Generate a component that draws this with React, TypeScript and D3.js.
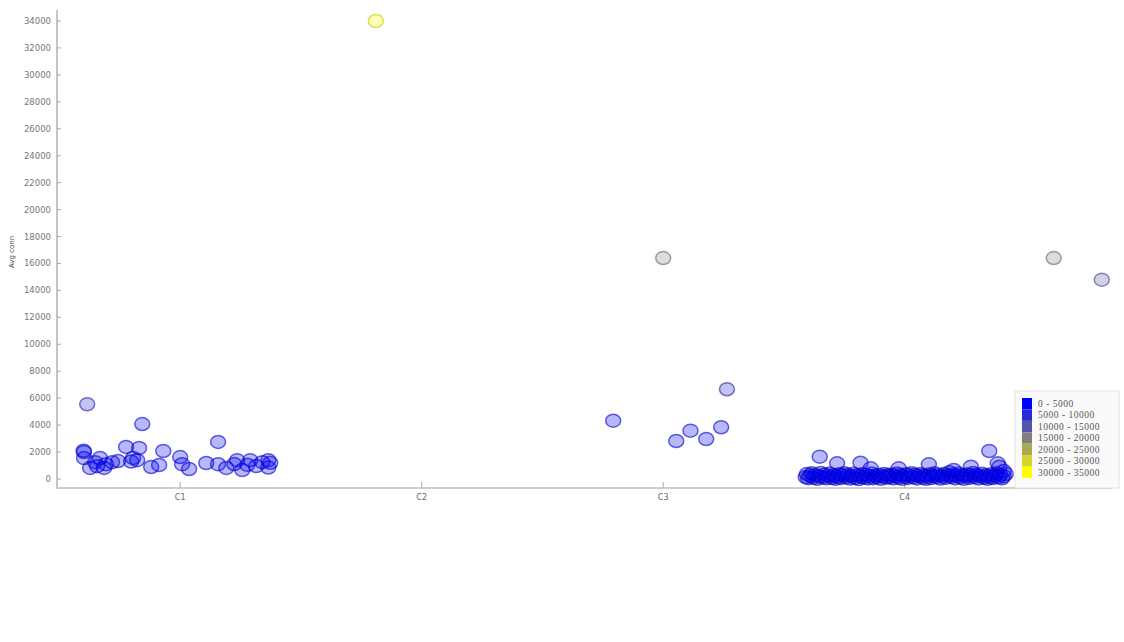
import React from "react";
import * as d3 from "d3";

const categories = ["C1", "C2", "C3", "C4"];
const yTicks = d3.range(0, 34001, 2000);
const legendLabels = ["0 - 5000", "5000 - 10000", "10000 - 15000", "15000 - 20000", "20000 - 25000", "25000 - 30000", "30000 - 35000"];

// [offset within category, value]
const c1Points: [number, number][] = [
  [-0.398, 2000], [-0.398, 1550], [-0.4, 2100], [-0.385, 5550], [-0.373, 820], [-0.352, 1250],
  [-0.344, 950], [-0.332, 1560], [-0.315, 820], [-0.307, 1100], [-0.282, 1250], [-0.257, 1330],
  [-0.224, 2380], [-0.203, 1300], [-0.195, 1560], [-0.178, 1400], [-0.17, 2300], [-0.157, 4080],
  [-0.12, 890], [-0.087, 1040], [-0.07, 2080], [0.0, 1630], [0.008, 1100], [0.037, 740],
  [0.108, 1190], [0.157, 2750], [0.157, 1100], [0.191, 820], [0.224, 1110], [0.236, 1400],
  [0.257, 670], [0.278, 1050], [0.29, 1400], [0.315, 960], [0.34, 1250], [0.365, 1400],
  [0.365, 850], [0.373, 1200],
];
const c2Points: [number, number][] = [[-0.19, 34000]];
const c3Points: [number, number][] = [
  [-0.207, 4330], [0.0, 16400], [0.054, 2820], [0.113, 3590], [0.178, 2970], [0.24, 3840], [0.264, 6660],
];
const c4Points: [number, number][] = [
  [-0.41, 150], [-0.405, 380], [-0.4, 60], [-0.392, 250], [-0.385, 420], [-0.378, 100], [-0.37, 300],
  [-0.362, 20], [-0.355, 200], [-0.348, 450], [-0.34, 120], [-0.332, 330], [-0.325, 50], [-0.317, 240],
  [-0.31, 400], [-0.302, 90], [-0.295, 280], [-0.287, 10], [-0.28, 180], [-0.272, 360], [-0.265, 70],
  [-0.257, 260], [-0.25, 430], [-0.242, 130], [-0.235, 310], [-0.227, 30], [-0.22, 220], [-0.212, 390],
  [-0.205, 80], [-0.197, 270], [-0.19, 0], [-0.182, 170], [-0.175, 350], [-0.167, 110], [-0.16, 290],
  [-0.152, 40], [-0.145, 230], [-0.137, 410], [-0.13, 60], [-0.122, 250], [-0.115, 140], [-0.107, 320],
  [-0.1, 20], [-0.092, 200], [-0.085, 380], [-0.077, 90], [-0.07, 270], [-0.062, 150], [-0.055, 340],
  [-0.047, 50], [-0.04, 230], [-0.032, 400], [-0.025, 110], [-0.017, 290], [-0.01, 10], [-0.002, 190],
  [0.005, 360], [0.013, 80], [0.02, 260], [0.028, 430], [0.035, 130], [0.043, 310], [0.05, 40],
  [0.058, 220], [0.065, 380], [0.073, 100], [0.08, 280], [0.088, 20], [0.095, 190], [0.103, 350],
  [0.11, 70], [0.118, 250], [0.125, 420], [0.133, 140], [0.14, 300], [0.148, 30], [0.155, 210],
  [0.163, 370], [0.17, 90], [0.178, 270], [0.185, 500], [0.193, 160], [0.2, 330], [0.208, 50],
  [0.215, 240], [0.223, 400], [0.23, 120], [0.238, 290], [0.245, 10], [0.253, 200], [0.26, 360],
  [0.268, 80], [0.275, 260], [0.283, 440], [0.29, 140], [0.298, 310], [0.305, 40], [0.313, 230],
  [0.32, 390], [0.328, 100], [0.335, 280], [0.343, 20], [0.35, 180], [0.358, 350], [0.365, 70],
  [0.373, 250], [0.38, 420], [0.388, 130], [0.395, 300], [0.403, 50], [0.41, 210], [0.418, 380],
  [-0.352, 1660], [-0.28, 1160], [-0.183, 1210], [-0.141, 790], [-0.025, 790], [0.1, 1090],
  [0.203, 670], [0.274, 910], [0.35, 2080], [0.385, 1160], [0.392, 910], [0.41, 600],
  [0.617, 16400], [0.816, 14800],
];
const seriesByCategory = [c1Points, c2Points, c3Points, c4Points];

const W = 1124;
const H = 642;

export default function App() {
  const x = d3.scaleLinear().domain([0.49, 4.85]).range([57, 1110]);
  const y = d3.scaleLinear().domain([0, 34000]).range([479, 21]);
  const color = d3.scaleQuantize<string>()
    .domain([0, 35000])
    .range(d3.range(7).map((i) => d3.interpolateRgb("#0000ff", "#ffff00")(i / 6)));

  const points = seriesByCategory.flatMap((pts, ci) =>
    pts.map(([off, v]) => {
      const c = color(v);
      return { cx: x(ci + 1 + off), cy: y(v), c, s: d3.color(c)!.darker(0.7).formatHex() };
    })
  );

  const legendY = d3.scaleBand<number>().domain(d3.range(7)).range([398, 478]);

  return (
    <svg width={W} height={H} style={{ position: "absolute", left: 0, top: 0, background: "#fff" }}>
      <rect x={0} y={0} width={W} height={H} fill="#fff" />
      {/* y axis */}
      <line x1={57} x2={57} y1={10} y2={489} stroke="#c4c4c4" strokeWidth={2} />
      {yTicks.map((t) => (
        <g key={t}>
          <line x1={57} x2={61} y1={y(t)} y2={y(t)} stroke="#aaa" strokeWidth={1} />
          <text x={51} y={y(t)} dy="0.35em" textAnchor="end" fontSize={8.5} fill="#777"
            fontFamily="DejaVu Sans, sans-serif">{t}</text>
        </g>
      ))}
      <text transform="translate(14,252) rotate(-90)" textAnchor="middle" fontSize={7} fill="#444"
        fontFamily="DejaVu Sans, sans-serif">Avg conn</text>
      {/* x axis */}
      <line x1={56} x2={1112} y1={488} y2={488} stroke="#cfcfcf" strokeWidth={2} />
      {categories.map((c, i) => (
        <g key={c}>
          <line x1={x(i + 1)} x2={x(i + 1)} y1={482} y2={488} stroke="#aaa" strokeWidth={1} />
          <text x={x(i + 1)} y={500} textAnchor="middle" fontSize={8} fill="#666"
            fontFamily="DejaVu Sans, sans-serif">{c}</text>
        </g>
      ))}
      {/* points */}
      {points.map((p, i) => (
        <ellipse key={i} cx={p.cx} cy={p.cy} rx={7.5} ry={6.5}
          fill={p.c} fillOpacity={0.28} stroke={p.s} strokeOpacity={0.6} strokeWidth={1.5} />
      ))}
      {/* legend */}
      <rect x={1015} y={391} width={104} height={97} fill="#fafafa" stroke="#e2e2e2" strokeWidth={1} />
      {legendLabels.map((l, i) => (
        <g key={l}>
          <rect x={1022} y={legendY(i)!} width={10} height={legendY.bandwidth()} fill={color(i * 5000 + 1)} />
          <text x={1038} y={legendY(i)! + legendY.bandwidth() / 2} dy="0.35em" fontSize={9.5} fill="#555"
            letterSpacing={0.5} fontFamily="Liberation Serif, serif">{l}</text>
        </g>
      ))}
    </svg>
  );
}
